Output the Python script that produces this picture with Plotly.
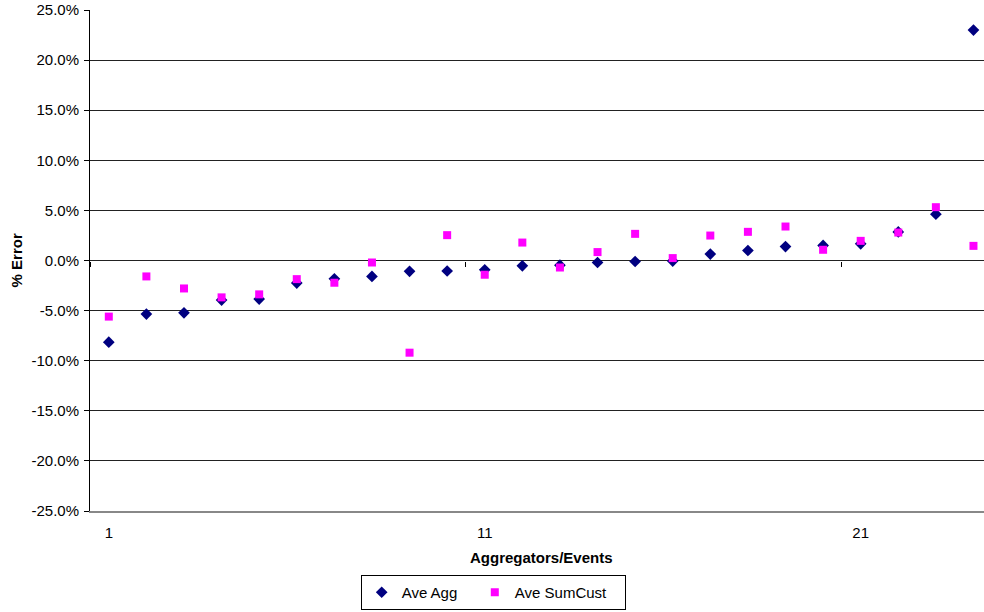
import plotly.graph_objects as go

# Per-event percentage error of the two averaging methods
events = list(range(1, 25))
ave_agg = [-8.15, -5.35, -5.22, -3.95, -3.85, -2.25, -1.83, -1.59,
           -1.08, -1.05, -0.93, -0.53, -0.47, -0.2, -0.1, -0.06,
           0.64, 1.0, 1.39, 1.5, 1.66, 2.85, 4.62, 23.0]
ave_sumcust = [-5.6, -1.59, -2.79, -3.68, -3.38, -1.86, -2.22, -0.2,
               -9.2, 2.53, -1.42, 1.79, -0.7, 0.84, 2.66, 0.24,
               2.49, 2.86, 3.39, 1.07, 1.96, 2.79, 5.32, 1.46]
series_names = ["Ave Agg", "Ave SumCust"]
x_ticks = [1, 11, 21]
y_ticks = [-25, -20, -15, -10, -5, 0, 5, 10, 15, 20, 25]
y_tick_text = [f"{v:.1f}%" for v in y_ticks]
boundary_ticks = [0.5, 10.5, 20.5]

FONT = "Liberation Sans, Arial, sans-serif"
x_range = [0.5, 24.28]
PAD = "\u00a0" * 3  # a little extra room after each legend entry

fig = go.Figure()
fig.add_trace(go.Scatter(
    x=events, y=ave_agg, mode="markers", name=series_names[0] + PAD,
    marker=dict(symbol="diamond", size=9, color="#000080"),
))
fig.add_trace(go.Scatter(
    x=events, y=ave_sumcust, mode="markers", name=series_names[1] + PAD,
    marker=dict(symbol="square", size=8, color="#FF00FF"),
))
# carrier for the category-boundary ticks drawn on the zero line
fig.add_trace(go.Scatter(x=[None], y=[None], xaxis="x2", showlegend=False,
                         hoverinfo="skip"))

fig.update_layout(
    width=984, height=612,
    margin=dict(l=90, r=0, t=10, b=101, autoexpand=False),
    paper_bgcolor="white", plot_bgcolor="white",
    font=dict(family=FONT, size=15, color="black"),
    showlegend=True,
    legend=dict(
        orientation="h", x=0.451, xanchor="center", y=-0.1976, yanchor="bottom",
        bordercolor="black", borderwidth=1, bgcolor="white",
        font=dict(size=15), itemwidth=30, tracegroupgap=0,
    ),
    xaxis=dict(
        range=x_range, tickvals=x_ticks, ticktext=[str(v) for v in x_ticks],
        showgrid=False, zeroline=False, ticks="", ticklabelstandoff=7,
        showline=True, linecolor="#888888", linewidth=2,
    ),
    xaxis2=dict(
        range=x_range, overlaying="x", anchor="free", position=0.5,
        tickvals=boundary_ticks, ticks="outside", ticklen=5, tickcolor="black",
        showticklabels=False, showgrid=False, zeroline=False, showline=False,
    ),
    yaxis=dict(
        range=[-25, 25], tickvals=y_ticks, ticktext=y_tick_text,
        showgrid=True, gridcolor="#222222", gridwidth=1,
        zeroline=True, zerolinecolor="#222222", zerolinewidth=1,
        showline=True, linecolor="black", linewidth=1,
        ticks="outside", ticklen=5, tickcolor="black", ticklabelstandoff=2,
    ),
    annotations=[
        dict(text="<b>% Error</b>", textangle=-90, xref="paper", yref="paper",
             x=-0.0817, y=0.5, xanchor="center", yanchor="middle",
             showarrow=False, font=dict(size=15)),
        dict(text="<b>Aggregators/Events</b>", xref="paper", yref="paper",
             x=0.5045, y=-0.0938, xanchor="center", yanchor="middle",
             showarrow=False, font=dict(size=15)),
    ],
)

fig.write_html("out.html")
